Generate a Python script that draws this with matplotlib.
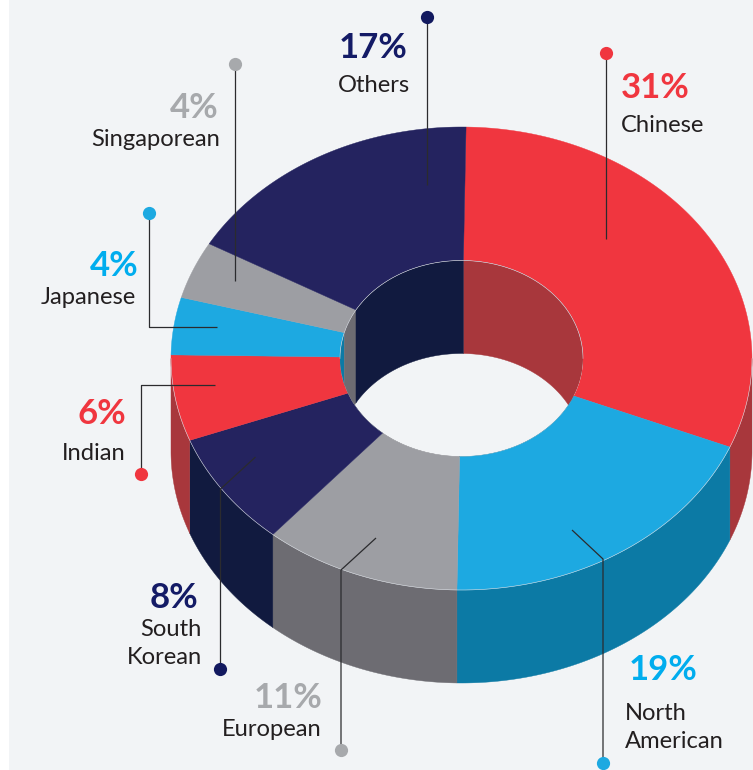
import numpy as np
from matplotlib import pyplot as plt
from matplotlib.patches import Ellipse, Rectangle

plt.rcParams['font.family'] = ['Lato', 'DejaVu Sans']

names = ['Chinese', 'North\nAmerican', 'European', 'South\nKorean', 'Indian', 'Japanese', 'Singaporean', 'Others']
shares = [31, 19, 11, 8, 6, 4, 4, 17]
top_colors = ['#F0363F', '#1DA9E1', '#9D9EA3', '#24235F', '#F0363F', '#1DA9E1', '#9D9EA3', '#24235F']
side_colors = ['#A8373C', '#0C7AA5', '#6D6C72', '#111A3F', '#A8373C', '#0C7AA5', '#6D6C72', '#111A3F']
pct_colors = ['#F0363F', '#00ADEE', '#A7A9AC', '#141B66', '#F0363F', '#00ADEE', '#A7A9AC', '#141B66']
dot_colors = ['#F0363F', '#1DA9E1', '#A7A9AC', '#12195F', '#F0363F', '#1DA9E1', '#A7A9AC', '#12195F']

# donut geometry in pixels
cx, cy = 461.5, 358.5
rx_out, ry_out = 290.5, 231.5
rx_in, ry_in = 121.5, 98
depth = 93
start = 0.9
bg = '#F2F4F6'

# x, y, ha of the percentage and of the name
pct_pos = [(621, 98, 'left'), (629, 680, 'left'), (323, 708, 'right'), (198, 607, 'right'),
           (126, 424, 'right'), (139, 275, 'right'), (219, 117, 'right'), (339, 57, 'left')]
name_pos = [(621, 132, 'left'), (625, 720, 'left'), (322, 736, 'right'), (202, 635, 'right'),
            (126, 459, 'right'), (136, 304, 'right'), (220, 146, 'right'), (338, 92, 'left')]
# leader lines, first point is the dot
leaders = [
    [(606.5, 53), (606.5, 239)],
    [(603, 763), (603, 559), (572, 530)],
    [(341, 750), (341, 570), (376, 538)],
    [(220.5, 669), (220.5, 489), (255.5, 457)],
    [(141.5, 474), (141.5, 385), (215, 385)],
    [(149.5, 213), (149.5, 326.5), (217, 326.5)],
    [(235.5, 64), (235.5, 281)],
    [(427.5, 17), (427.5, 185)],
]


def arc(a1, a2, rx, ry, dy=0):
    # angles clockwise from the top of the ellipse
    t = np.radians(np.linspace(a1, a2, 120))
    return cx + rx * np.sin(t), cy + dy - ry * np.cos(t)


fig = plt.figure(figsize=(7.53, 7.70), dpi=100)
ax = fig.add_axes([0, 0, 1, 1])
ax.set_xlim(0, 753)
ax.set_ylim(770, 0)
ax.axis('off')
ax.add_patch(Rectangle((9, 0), 744, 770, color=bg, lw=0))

edges = start + np.cumsum([0] + shares) * 3.6

# outer wall, only the front half shows
for i in range(len(shares)):
    a1 = max(edges[i], 90)
    a2 = min(edges[i + 1], 270)
    if a2 <= a1:
        continue
    x1, y1 = arc(a1, a2, rx_out, ry_out)
    x2, y2 = arc(a2, a1, rx_out, ry_out, depth)
    ax.fill(np.r_[x1, x2], np.r_[y1, y2], color=side_colors[i], lw=0.3, zorder=1)

# top face
for i in range(len(shares)):
    x1, y1 = arc(edges[i], edges[i + 1], rx_out, ry_out)
    x2, y2 = arc(edges[i + 1], edges[i], rx_in, ry_in)
    ax.fill(np.r_[x1, x2], np.r_[y1, y2], color=top_colors[i], lw=0.3, zorder=2)

# thin light rim where the top meets the front wall
x1, y1 = arc(90, 270, rx_out, ry_out)
ax.plot(x1, y1, color='#D8DCE2', lw=0.4, zorder=3)

# hole and inner wall
hole = Ellipse((cx, cy), 2 * rx_in, 2 * ry_in, color=bg, lw=0, zorder=3)
ax.add_patch(hole)
for i in range(len(shares)):
    x1, y1 = arc(edges[i], edges[i + 1], rx_in, ry_in)
    x2, y2 = arc(edges[i + 1], edges[i], rx_in, ry_in, depth)
    wall = ax.fill(np.r_[x1, x2], np.r_[y1, y2], color=side_colors[i], lw=0.3, zorder=4)[0]
    wall.set_clip_path(hole)
x1, y1 = arc(-90, 90, rx_in, ry_in)
ax.plot(x1, y1, color='#C9CDD6', lw=0.4, zorder=5)

# leaders and labels
for i in range(len(shares)):
    pts = np.array(leaders[i])
    ax.plot(pts[:, 0], pts[:, 1], color='#2B2B2E', lw=0.9, zorder=6, solid_capstyle='butt')
    ax.plot(pts[0, 0], pts[0, 1], 'o', ms=9.5, mfc=dot_colors[i], mec='none', zorder=7)

    x, y, ha = pct_pos[i]
    ax.text(x, y + 0.5, str(shares[i]) + '%', color=pct_colors[i], fontsize=25, fontweight='bold',
            ha=ha, va='baseline', zorder=8)
    x, y, ha = name_pos[i]
    lines = names[i].split('\n')
    for j, line in enumerate(lines):
        ax.text(x, y + 0.5 + j * 28, line, color='#231F20', fontsize=17.1, ha=ha, va='baseline', zorder=8)

fig.savefig('out.png', dpi=100)
